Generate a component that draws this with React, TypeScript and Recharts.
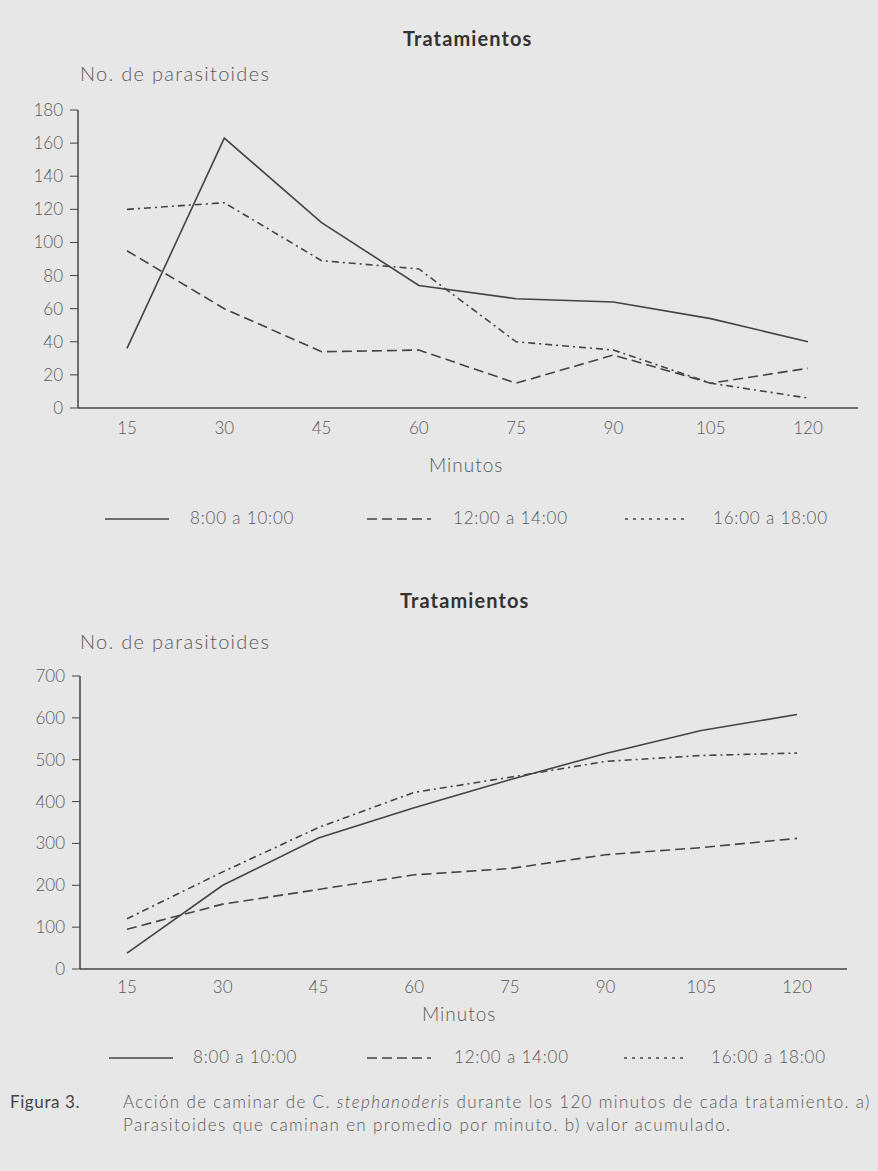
import React from "react";
import { LineChart, Line, XAxis, YAxis } from "recharts";

// minutes of each treatment
const minutes = [15, 30, 45, 60, 75, 90, 105, 120];

// a) average parasitoids walking per minute
const avgMorning = [36, 163, 112, 74, 66, 64, 54, 40];
const avgMidday = [95, 60, 34, 35, 15, 32, 15, 24];
const avgEvening = [120, 124, 89, 84, 40, 35, 15, 6];

// b) cumulative value
const cumMorning = [38, 200, 313, 385, 452, 515, 570, 608];
const cumMidday = [95, 155, 190, 225, 240, 273, 290, 312];
const cumEvening = [120, 232, 338, 422, 458, 496, 510, 516];

const avgTicks = [0, 20, 40, 60, 80, 100, 120, 140, 160, 180];
const cumTicks = [0, 100, 200, 300, 400, 500, 600, 700];

const seriesNames = ["8:00 a 10:00", "12:00 a 14:00", "16:00 a 18:00"];

const FONT = "Lato, 'Open Sans', sans-serif";
const INK = "#444";
const TEXT = "#5a5a5a";
const DASHES = ["", "10 5", "7 4 2 4"];

const avgData = minutes.map((m, i) => ({
    min: m,
    morning: avgMorning[i],
    midday: avgMidday[i],
    evening: avgEvening[i],
}));

const cumData = minutes.map((m, i) => ({
    min: m,
    morning: cumMorning[i],
    midday: cumMidday[i],
    evening: cumEvening[i],
}));

const keys = ["morning", "midday", "evening"];

const tickStyle = { fontSize: 17, fill: TEXT, fontFamily: FONT, fontWeight: 300 };

const abs = (left: number, top: number, extra: React.CSSProperties = {}): React.CSSProperties => ({
    position: "absolute",
    left,
    top,
    fontFamily: FONT,
    color: TEXT,
    whiteSpace: "nowrap",
    ...extra,
});

type LegendPos = { line: number; text: number }[];

const LegendRow: React.FC<{ top: number; pos: LegendPos }> = ({ top, pos }) => (
    <>
        {seriesNames.map((name, i) => (
            <React.Fragment key={name}>
                <svg style={abs(pos[i].line, top - 4)} width={64} height={8}>
                    <line
                        x1={0}
                        x2={64}
                        y1={4}
                        y2={4}
                        stroke={INK}
                        strokeWidth={1.5}
                        strokeDasharray={i === 2 ? "3 5" : DASHES[i]}
                    />
                </svg>
                <div
                    style={abs(pos[i].text, top - 12, {
                        fontSize: 17,
                        lineHeight: "22px",
                        fontWeight: 300,
                        letterSpacing: 0.8,
                    })}
                >
                    {name}
                </div>
            </React.Fragment>
        ))}
    </>
);

type PanelProps = {
    data: typeof avgData;
    ticks: number[];
    max: number;
    margin: { top: number; right: number; bottom: number; left: number };
    padding: { left: number; right: number };
    tickMargin: number;
};

const Panel: React.FC<PanelProps> = ({ data, ticks, max, margin, padding, tickMargin }) => (
    <LineChart width={878} height={440} data={data} margin={margin}>
        <XAxis
            dataKey="min"
            type="category"
            padding={padding}
            tickLine={false}
            tickMargin={tickMargin}
            axisLine={{ stroke: INK, strokeWidth: 1.5 }}
            tick={tickStyle}
            height={30}
        />
        <YAxis
            domain={[0, max]}
            ticks={ticks}
            interval={0}
            width={60}
            tickSize={8}
            tickMargin={7}
            axisLine={{ stroke: INK, strokeWidth: 1.5 }}
            tickLine={{ stroke: INK }}
            tick={tickStyle}
        />
        {keys.map((k, i) => (
            <Line
                key={k}
                dataKey={k}
                type="linear"
                stroke={INK}
                strokeWidth={1.6}
                strokeDasharray={DASHES[i] || undefined}
                dot={false}
                isAnimationActive={false}
                name={seriesNames[i]}
            />
        ))}
    </LineChart>
);

const titleStyle: React.CSSProperties = { fontSize: 20, fontWeight: 700, color: "#333", letterSpacing: 1.1 };
const yTitleStyle: React.CSSProperties = { fontSize: 20, fontWeight: 300, letterSpacing: 1.3 };
const xTitleStyle: React.CSSProperties = { fontSize: 19, fontWeight: 300, letterSpacing: 1 };

export default function App() {
    return (
        <div
            style={{
                position: "absolute",
                left: 0,
                top: 0,
                width: 878,
                height: 1171,
                background: "#e7e7e7",
                overflow: "hidden",
            }}
        >
            {/* a) */}
            <div style={abs(0, 0)}>
                <Panel
                    data={avgData}
                    ticks={avgTicks}
                    max={180}
                    margin={{ top: 110, right: 20, bottom: 2, left: 18 }}
                    padding={{ left: 49, right: 50 }}
                    tickMargin={8}
                />
            </div>
            <div style={abs(403, 26, titleStyle)}>Tratamientos</div>
            <div style={abs(80, 61, yTitleStyle)}>No. de parasitoides</div>
            <div style={abs(429, 453, xTitleStyle)}>Minutos</div>
            <LegendRow
                top={519}
                pos={[
                    { line: 105, text: 190 },
                    { line: 367, text: 453 },
                    { line: 625, text: 713 },
                ]}
            />

            {/* b) */}
            <div style={abs(0, 560)}>
                <Panel
                    data={cumData}
                    ticks={cumTicks}
                    max={700}
                    margin={{ top: 116, right: 31, bottom: 1, left: 20 }}
                    padding={{ left: 47, right: 50 }}
                    tickMargin={6}
                />
            </div>
            <div style={abs(400, 588, titleStyle)}>Tratamientos</div>
            <div style={abs(80, 629, yTitleStyle)}>No. de parasitoides</div>
            <div style={abs(422, 1002, xTitleStyle)}>Minutos</div>
            <LegendRow
                top={1058}
                pos={[
                    { line: 109, text: 193 },
                    { line: 367, text: 454 },
                    { line: 624, text: 711 },
                ]}
            />

            <div style={abs(10, 1090, { fontSize: 17, lineHeight: "23px", color: "#444", letterSpacing: 0.6 })}>
                Figura 3.
            </div>
            <div
                style={abs(123, 1090, {
                    fontSize: 17,
                    lineHeight: "23px",
                    fontWeight: 300,
                    letterSpacing: 1.35,
                    width: 760,
                })}
            >
                Acción de caminar de C. <i>stephanoderis</i> durante los 120 minutos de cada tratamiento. a)
                <br />
                Parasitoides que caminan en promedio por minuto. b) valor acumulado.
            </div>
        </div>
    );
}
